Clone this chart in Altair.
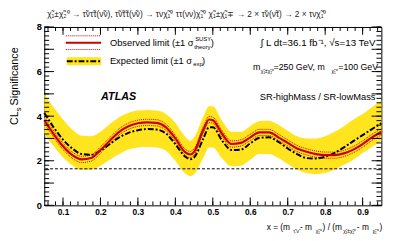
import altair as alt
import pandas as pd

FONT = "Liberation Sans"

# ---- data ----
xs = [0.05, 0.075, 0.10, 0.125, 0.15, 0.175, 0.20, 0.225, 0.25, 0.275, 0.30, 0.325, 0.35, 0.375,
      0.40, 0.425, 0.44, 0.45, 0.475, 0.49, 0.50, 0.525, 0.55, 0.575, 0.60, 0.625, 0.65, 0.675,
      0.70, 0.725, 0.75, 0.775, 0.80, 0.825, 0.85, 0.875, 0.90, 0.925, 0.95]
observed = [3.82, 3.2, 2.65, 2.25, 2.06, 2.12, 2.48, 2.9, 3.3, 3.55, 3.68, 3.72, 3.7, 3.5,
            3.0, 2.4, 2.28, 2.4, 3.4, 3.85, 3.82, 3.2, 2.75, 2.8, 3.05, 3.27, 3.27, 3.05,
            2.8, 2.55, 2.4, 2.3, 2.25, 2.25, 2.33, 2.5, 2.75, 3.05, 3.3]
theory_up = [v + 0.14 for v in observed]
theory_dn = [v - 0.14 for v in observed]
expected = [4.15, 3.5, 2.95, 2.55, 2.3, 2.27, 2.45, 2.75, 3.05, 3.25, 3.37, 3.42, 3.4, 3.22,
            2.75, 2.2, 2.07, 2.15, 3.0, 3.5, 3.5, 2.9, 2.48, 2.5, 2.78, 3.03, 3.05, 2.85,
            2.55, 2.3, 2.12, 2.1, 2.18, 2.35, 2.6, 2.88, 3.15, 3.42, 3.68]
band_hi = [5.0, 4.4, 3.85, 3.4, 3.12, 3.1, 3.3, 3.65, 3.95, 4.15, 4.25, 4.28, 4.25, 4.1,
           3.7, 3.1, 2.9, 3.05, 4.0, 4.45, 4.45, 3.8, 3.3, 3.3, 3.55, 3.78, 3.8, 3.62,
           3.35, 3.1, 3.0, 3.0, 3.1, 3.3, 3.55, 3.85, 4.1, 4.4, 4.7]
band_lo = [3.2, 2.65, 2.15, 1.8, 1.58, 1.6, 1.78, 2.05, 2.3, 2.5, 2.6, 2.62, 2.6, 2.45,
           2.0, 1.45, 1.32, 1.4, 2.15, 2.6, 2.6, 2.1, 1.75, 1.78, 2.05, 2.3, 2.3, 2.12,
           1.85, 1.6, 1.45, 1.4, 1.45, 1.6, 1.82, 2.05, 2.35, 2.62, 2.9]
threshold = 1.64

x_major = [0.1, 0.2, 0.3, 0.4, 0.5, 0.6, 0.7, 0.8, 0.9]
x_minor = [round(0.06 + 0.02 * i, 2) for i in range(45)]
y_major = [0, 1, 2, 3, 4, 5, 6, 7, 8]
y_minor = [round(0.2 * i, 1) for i in range(41)]

W, H = 344, 182
df = pd.DataFrame({"x": xs, "obs": observed, "up": theory_up, "dn": theory_dn,
                   "exp": expected, "hi": band_hi, "lo": band_lo})

xsc = alt.Scale(domain=[0.05, 0.95], nice=False, zero=False)
ysc = alt.Scale(domain=[0, 8], nice=False, zero=False)
X = alt.X("x:Q", scale=xsc,
          axis=alt.Axis(values=x_major, format=".1f", tickSize=0, domain=False, grid=False,
                        labelFont=FONT, labelFontSize=8.5, labelFontWeight="bold",
                        labelColor="black", labelPadding=2, title=None))
base = alt.Chart(df)
INTERP = "monotone"

band = base.mark_area(color="#ffe41e", interpolate=INTERP).encode(
    x=X, y=alt.Y("hi:Q", scale=ysc,
                 axis=alt.Axis(values=y_major, tickSize=0, domain=False, grid=False,
                               labelFont=FONT, labelFontSize=9.5, labelFontWeight="bold",
                               labelColor="black", labelPadding=3, title=None)),
    y2="lo:Q")
red = "#cc0000"
up = base.mark_line(color=red, strokeWidth=1, strokeDash=[1, 1], interpolate=INTERP).encode(x="x:Q", y="up:Q")
dn = base.mark_line(color=red, strokeWidth=1, strokeDash=[1, 1], interpolate=INTERP).encode(x="x:Q", y="dn:Q")
exp = base.mark_line(color="black", strokeWidth=2, strokeDash=[6, 2, 2, 2], interpolate=INTERP).encode(x="x:Q", y="exp:Q")
obs = base.mark_line(color=red, strokeWidth=2.2, interpolate=INTERP).encode(x="x:Q", y="obs:Q")
thr = alt.Chart(pd.DataFrame({"t": [threshold]})).mark_rule(color="black", strokeWidth=1, strokeDash=[3, 2]).encode(y="t:Q")

def ticks_x(vals, length):
    d = alt.Chart(pd.DataFrame({"t": vals}))
    b = d.mark_rule(color="black", strokeWidth=1).encode(x=alt.X("t:Q", scale=xsc), y=alt.value(H), y2=alt.value(H - length))
    t = d.mark_rule(color="black", strokeWidth=1).encode(x=alt.X("t:Q", scale=xsc), y=alt.value(0), y2=alt.value(length))
    return [b, t]

def ticks_y(vals, length):
    d = alt.Chart(pd.DataFrame({"t": vals}))
    l = d.mark_rule(color="black", strokeWidth=1).encode(y=alt.Y("t:Q", scale=ysc), x=alt.value(0), x2=alt.value(length))
    r = d.mark_rule(color="black", strokeWidth=1).encode(y=alt.Y("t:Q", scale=ysc), x=alt.value(W), x2=alt.value(W - length))
    return [l, r]

one = alt.Chart(pd.DataFrame({"a": [0]}))

def txt(s, px, py, size=9.5, align="left", angle=0, weight="normal", style="normal", color="black"):
    return one.mark_text(text=s, font=FONT, fontSize=size, align=align, baseline="middle",
                         angle=angle, fontWeight=weight, fontStyle=style, color=color).encode(
        x=alt.value(px - 45), y=alt.value(py - 25))

def seg(x1, x2, py, **kw):
    return one.mark_rule(**kw).encode(x=alt.value(x1 - 45), x2=alt.value(x2 - 45), y=alt.value(py - 25))

legend = [
    seg(67, 103, 34, color=red, strokeWidth=1, strokeDash=[1, 1]),
    seg(67, 103, 41, color=red, strokeWidth=2),
    seg(67, 103, 48, color=red, strokeWidth=1, strokeDash=[1, 1]),
    one.mark_rect(color="#ffe41e").encode(x=alt.value(68 - 45), x2=alt.value(103 - 45),
                                          y=alt.value(56 - 25), y2=alt.value(64 - 25)),
    seg(68, 103, 60, color="black", strokeWidth=2, strokeDash=[6, 2, 2, 2]),
    txt("Observed limit (±1 σ", 112, 41),
    txt("SUSY", 199, 37, size=6),
    txt("theory", 198, 45, size=6),
    txt(")", 215, 41),
    txt("Expected limit (±1 σ", 112, 60),
    txt("exp", 197, 63, size=6),
    txt(")", 206, 60),
]

labels = [
    txt("χ̃₁±χ̃₂⁰ → τ̃ντ̃τ(ν̃ν), τ̃ν̃τ̃τ(ν̃ν) → τνχ̃₁⁰ ττ(νν)χ̃₁⁰   χ̃₁±χ̃₁∓ → 2 × τ̃ν(ν̃τ) → 2 × τνχ̃₁⁰",
        48, 12, size=8.5, color="#222222"),
    txt("∫ L dt=36.1 fb⁻¹,  √s=13 TeV", 383, 41, size=10, align="right"),
    txt("m", 258, 66, size=9),
    txt("χ̃₁±χ̃₂⁰", 266, 70, size=5),
    txt("=250 GeV, m", 279, 66, size=9),
    txt("χ̃₁⁰", 338, 70, size=5),
    txt("=100 GeV", 345, 66, size=9),
    txt("SR-highMass / SR-lowMass", 383, 97, size=9.5, align="right"),
    txt("ATLAS", 103, 97, size=11, weight="bold", style="italic"),
    # y axis title
    txt("CL", 15, 125, size=11, align="left", angle=270),
    txt("s", 19, 111, size=8, align="left", angle=270),
    txt("Significance", 15, 105, size=11, align="left", angle=270),
    # x axis title
    txt("x =  (m", 272, 229, size=8.5),
    txt("τ̃,ν̃", 299, 233, size=5),
    txt("-  m", 306, 229, size=8.5),
    txt("χ̃₁⁰", 322, 233, size=5),
    txt(") / (m", 329, 229, size=8.5),
    txt("χ̃₁±χ̃₂⁰", 350, 233, size=5),
    txt("-  m", 364, 229, size=8.5),
    txt("χ̃₁⁰", 380, 233, size=5),
    txt(")", 387, 229, size=8.5),
]

layers = [band, up, dn, exp, obs, thr]
layers += ticks_x(x_minor, 4) + ticks_x(x_major, 8)
layers += ticks_y(y_minor, 5) + ticks_y(y_major, 10)
layers += legend + labels

chart = alt.layer(*layers).properties(
    width=W, height=H,
    autosize=alt.AutoSizeParams(type="none"),
    padding={"left": 37, "top": 17, "right": 18, "bottom": 34},
    background="white",
).configure_view(stroke="black", strokeWidth=1)

chart.save("out.html", embed_options={"renderer": "svg", "actions": False})
